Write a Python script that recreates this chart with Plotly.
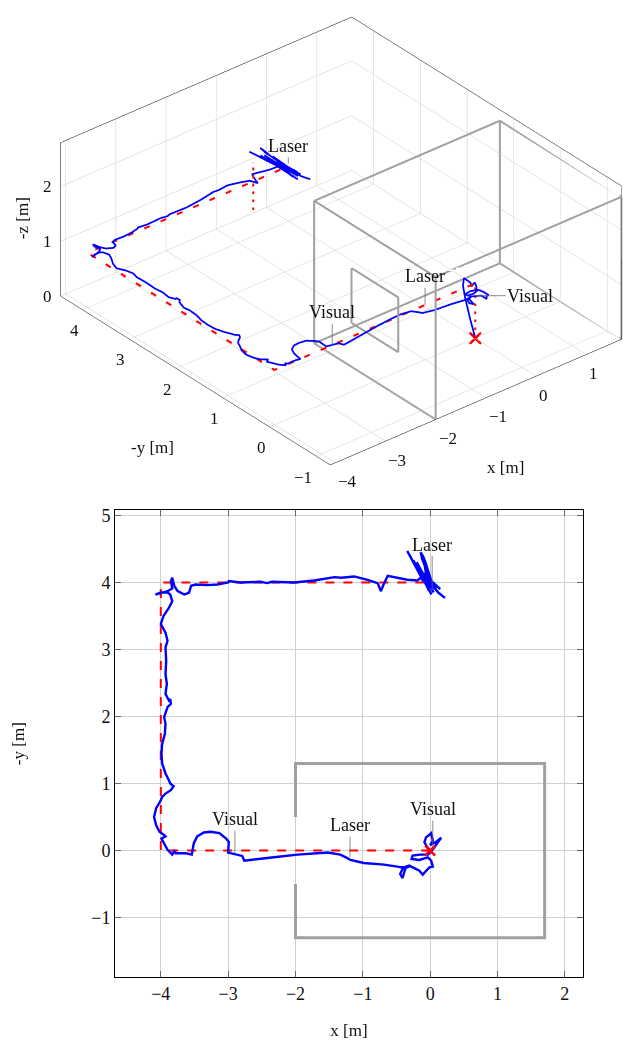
import plotly.graph_objects as go

# ---------------- data (x and -y in metres) ----------------
# planned reference path (2D)
ref_x = [0, -4, -4, 0]
ref_y = [0, 0, 4, 4]
# planned reference path (3D, with take-off) + landing segment
ref3_x = [0, 0, -4, -4, 0, None, -0.7, -0.7]
ref3_y = [0, 0, 0, 4, 4, None, 4, 4]
ref3_z = [0, 1, 1, 1, 1, None, 0.45, 1.35]

# estimated trajectory
traj_x = [0.00, -0.05, -0.085, -0.06, -0.025, 0.015, 0.04, 0.00, 0.10, 0.165, 0.12, 0.05, -0.03, -0.15,
          -0.26, -0.275, -0.16, -0.035, 0.015, 0.04, -0.01, -0.11, -0.16, -0.235, -0.31, -0.36, -0.41,
          -0.445, -0.41, -0.31, -0.435, -0.485, -0.685, -0.985, -1.135, -1.185, -1.235, -1.335,
          -1.52, -1.72, -1.97, -2.32, -2.66, -2.76, -2.79, -2.86, -2.96, -3.00, -2.99, -3.03, -3.13,
          -3.26, -3.36, -3.46, -3.51, -3.53, -3.54, -3.63, -3.78, -3.80, -3.83, -3.90, -3.95, -3.99,
          -3.93, -3.95, -4.02, -4.07, -4.10, -4.07, -4.00, -3.98, -3.93, -3.85, -3.81, -3.86, -3.88,
          -3.93, -3.98, -3.99, -3.98, -3.94, -3.93, -3.95, -3.90, -3.85, -3.86, -3.88, -3.93, -3.91,
          -3.93, -3.92, -3.93, -3.90, -3.93, -4.00, -3.96, -3.88, -3.83, -3.86, -3.90, -4.00, -4.08,
          -4.00, -3.90, -3.83, -3.85, -3.83, -3.80, -3.75, -3.65, -3.58, -3.55, -3.48, -3.31, -3.16,
          -3.00, -2.99, -2.82, -2.52, -2.42, -2.35, -2.02, -1.72, -1.42, -1.32, -1.13, -0.93, -0.78,
          -0.73, -0.70, -0.63, -0.53, -0.34, -0.19, -0.14, -0.10, -0.34, -0.05, -0.25, 0.02, -0.18,
          0.10, -0.05, 0.05, -0.20, -0.02, -0.08, 0.03, -0.12, -0.14, -0.10, -0.07, 0.05, -0.12,
          0.15, -0.03, 0.08, 0.00, 0.12, 0.22]
traj_y = [0.00, 0.06, 0.125, 0.20, 0.225, 0.26, 0.15, 0.08, 0.14, 0.19, 0.13, 0.03, -0.06, -0.06,
          -0.075, -0.125, -0.14, -0.10, -0.15, -0.24, -0.25, -0.36, -0.30, -0.26, -0.225, -0.24, -0.41,
          -0.35, -0.275, -0.24, -0.25, -0.24, -0.21, -0.185, -0.15, -0.14, -0.11, -0.06,
          -0.03, -0.04, -0.06, -0.10, -0.14, -0.15, -0.08, -0.06, -0.04, -0.03, 0.13, 0.18, 0.26,
          0.28, 0.27, 0.21, 0.11, 0.01, -0.06, -0.04, -0.04, -0.01, -0.06, 0.01, 0.11, 0.18,
          0.21, 0.23, 0.28, 0.38, 0.50, 0.63, 0.75, 0.80, 0.85, 0.90, 0.96, 1.00, 1.05,
          1.15, 1.30, 1.45, 1.59, 1.74, 1.89, 1.99, 2.14, 2.19, 2.26, 2.24, 2.34, 2.49,
          2.63, 2.83, 3.03, 3.13, 3.25, 3.38, 3.50, 3.62, 3.72, 3.82, 3.85, 3.85, 3.82,
          3.84, 3.87, 3.91, 4.02, 4.07, 3.95, 3.87, 3.82, 3.85, 3.95, 3.97, 3.96, 3.97,
          4.00, 4.02, 4.00, 4.01, 3.99, 4.01, 4.00, 4.03, 4.08, 4.07, 4.09, 4.04, 3.99,
          3.87, 3.95, 4.10, 4.08, 4.04, 4.03, 4.07, 4.02, 4.47, 3.95, 4.33, 3.82, 4.20,
          3.92, 4.10, 3.85, 4.30, 3.88, 4.25, 3.98, 4.35, 4.45, 4.38, 4.30, 3.92, 4.15,
          3.90, 4.05, 3.95, 4.00, 3.85, 3.77]
traj_z = [0.00, 0.35, 0.70, 0.88, 0.92, 0.95, 0.92, 0.90, 0.88, 0.85, 0.88, 0.90, 0.92, 0.95,
          0.95, 0.95, 0.95, 0.95, 0.92, 0.90, 0.90, 0.95, 1.00, 1.00, 1.00, 1.00, 1.00,
          1.00, 1.00, 1.00, 1.00, 1.00, 1.00, 1.00, 1.00, 1.00, 1.02, 1.05,
          1.05, 1.05, 1.05, 1.05, 1.05, 1.05, 1.05, 1.05, 1.05, 1.05, 1.05, 1.05, 1.05,
          1.05, 1.05, 1.05, 1.05, 1.05, 1.05, 1.05, 1.05, 1.05, 1.05, 1.05, 1.05, 1.05,
          1.05, 1.05, 1.05, 1.05, 1.05, 1.05, 1.05, 1.05, 1.05, 1.05, 1.05, 1.05, 1.05,
          1.05, 1.05, 1.05, 1.05, 1.05, 1.05, 1.05, 1.05, 1.05, 1.05, 1.05, 1.05, 1.05,
          1.05, 1.05, 1.05, 1.05, 1.05, 1.05, 1.05, 1.05, 1.05, 1.05, 1.05, 1.05, 1.05,
          1.05, 1.05, 1.05, 1.05, 1.05, 1.05, 1.05, 1.05, 1.05, 1.05, 1.05, 1.05, 1.05,
          1.05, 1.05, 1.05, 1.05, 1.05, 1.05, 1.05, 1.05, 1.05, 1.05, 1.05, 1.05, 1.05,
          1.05, 1.05, 1.05, 1.05, 1.05, 1.05, 1.05, 1.00, 1.15, 0.95, 1.12, 0.85, 1.08,
          0.90, 1.02, 0.88, 1.12, 0.88, 1.08, 0.95, 1.10, 1.15, 1.10, 1.05, 0.90, 1.00,
          0.85, 0.98, 0.92, 0.95, 0.85, 0.80]

# room walls seen from above (gap = window)
wall_x = [-2, -2, 1.7, 1.7, -2, -2]
wall_y = [0.5, 1.3, 1.3, -1.3, -1.3, -0.5]
# room geometry for 3D
room_x0, room_x1 = -2, 1.7
room_y0, room_y1 = -1.3, 1.3
room_h = 2.6
win_y0, win_y1 = -0.5, 0.5
win_z0, win_z1 = 0.8, 1.8

# axis ranges / ticks of the 3D view
x3_range = [-4.1, 1.7]
y3_range = [-1.3, 4.47]
z3_range = [0, 2.8]
x3_ticks = [-4, -3, -2, -1, 0, 1]
y3_ticks = [-1, 0, 1, 2, 3, 4]
z3_ticks = [0, 1, 2]

# annotation pins 2D: (text, x, -y, pixel offset up)
pins2d = [("Laser", 0.03, 3.88, -46), ("Visual", -2.9, -0.04, -34),
          ("Laser", -1.19, -0.10, -32), ("Visual", 0.04, 0.05, -38)]
# annotation pins 3D: (text, x, -y, z, ax, ay)
pins3d = [("Laser", 0.0, 4.0, 1.05, 0, -18), ("Visual", -2.85, 0.0, 1.0, 0, -33),
          ("Laser", -1.0, 0.0, 1.0, 0, -29), ("Visual", 0.0, 0.0, 0.78, 55, 0)]

FONT = "Liberation Serif"
BLUE = "#0000ff"
RED = "#ff0000"
GRAY = "#a0a0a0"
TXT = "#111111"

# ---------------- 3D room segments ----------------
def segs(points):
    xs, ys, zs = [], [], []
    for a, b in points:
        xs += [a[0], b[0], None]
        ys += [a[1], b[1], None]
        zs += [a[2], b[2], None]
    return xs, ys, zs

c = lambda x, y, z: (x, y, z)
edges = []
for (xx, yy) in [(room_x0, room_y0), (room_x0, room_y1), (room_x1, room_y0), (room_x1, room_y1)]:
    edges.append((c(xx, yy, 0), c(xx, yy, room_h)))
edges += [(c(room_x0, room_y1, room_h), c(room_x1, room_y1, room_h)),
          (c(room_x1, room_y1, room_h), c(room_x1, room_y0, room_h)),
          (c(room_x1, room_y0, room_h), c(room_x0, room_y0, room_h)),
          (c(room_x0, room_y0, room_h), c(room_x0, room_y1, room_h)),
          (c(room_x0, room_y1, 0), c(room_x0, room_y0, 0)),
          (c(room_x0, room_y1, 0), c(room_x1, room_y1, 0)),
          (c(room_x1, room_y1, 0), c(room_x1, room_y0, 0)),
          (c(room_x0, win_y0, win_z0), c(room_x0, win_y1, win_z0)),
          (c(room_x0, win_y1, win_z0), c(room_x0, win_y1, win_z1)),
          (c(room_x0, win_y1, win_z1), c(room_x0, win_y0, win_z1)),
          (c(room_x0, win_y0, win_z1), c(room_x0, win_y0, win_z0))]
rx, ry, rz = segs(edges)

fig = go.Figure()

# 3D traces
fig.add_trace(go.Scatter3d(x=rx, y=ry, z=rz, mode="lines", line=dict(color=GRAY, width=4),
                           showlegend=False, hoverinfo="skip", scene="scene"))
fig.add_trace(go.Scatter3d(x=ref3_x, y=ref3_y, z=ref3_z, mode="lines",
                           line=dict(color=RED, width=4, dash="dash"), connectgaps=False,
                           showlegend=False, hoverinfo="skip", scene="scene"))
fig.add_trace(go.Scatter3d(x=traj_x, y=traj_y, z=traj_z, mode="lines",
                           line=dict(color=BLUE, width=3.5), showlegend=False, hoverinfo="skip",
                           scene="scene"))
fig.add_trace(go.Scatter3d(x=[ref3_x[0]], y=[ref3_y[0]], z=[ref3_z[0]], mode="markers",
                           marker=dict(symbol="x", size=2.8, color=RED), showlegend=False,
                           hoverinfo="skip", scene="scene"))

# 2D traces
fig.add_trace(go.Scatter(x=wall_x, y=wall_y, mode="lines", line=dict(color=GRAY, width=3),
                         showlegend=False, hoverinfo="skip", xaxis="x", yaxis="y"))
fig.add_trace(go.Scatter(x=ref_x, y=ref_y, mode="lines", line=dict(color=RED, width=2, dash="dash"),
                         showlegend=False, hoverinfo="skip", xaxis="x", yaxis="y"))
fig.add_trace(go.Scatter(x=traj_x, y=traj_y, mode="lines", line=dict(color=BLUE, width=2.4),
                         showlegend=False, hoverinfo="skip", xaxis="x", yaxis="y"))
fig.add_trace(go.Scatter(x=[ref_x[0]], y=[ref_y[0]], mode="markers",
                         marker=dict(symbol="x-thin", size=10, line=dict(color=RED, width=2.5)),
                         showlegend=False, hoverinfo="skip", xaxis="x", yaxis="y"))

pinfont = dict(family=FONT, size=18, color=TXT)
ann2d = []
for txt, px, py, ay in pins2d:
    ann2d.append(dict(x=px, y=py, xref="x", yref="y", text=txt, showarrow=True, arrowhead=0,
                      arrowwidth=0.8, arrowcolor="#707070", ax=0, ay=ay, standoff=0, font=pinfont))

# 3D axis titles (horizontal / rotated text like the original)
titlefont3 = dict(family=FONT, size=17, color=TXT)
ann2d += [dict(x=22 / 623, y=1 - 215 / 1040, xref="paper", yref="paper", text="-z [m]",
               textangle=-90, showarrow=False, xanchor="center", yanchor="middle", font=titlefont3),
          dict(x=152 / 623, y=1 - 445 / 1040, xref="paper", yref="paper", text="-y [m]",
               showarrow=False, xanchor="center", yanchor="middle", font=titlefont3),
          dict(x=505 / 623, y=1 - 465 / 1040, xref="paper", yref="paper", text="x [m]",
               showarrow=False, xanchor="center", yanchor="middle", font=titlefont3)]

tickfont3 = dict(family=FONT, size=17, color=TXT)
ann3d = []
for txt, px, py, pz, axp, ayp in pins3d:
    ann3d.append(dict(x=px, y=py, z=pz, text=txt, showarrow=True, arrowhead=0, arrowwidth=0.8,
                      arrowcolor="#707070", ax=axp, ay=ayp, font=pinfont))
for t in x3_ticks:
    ann3d.append(dict(x=t, y=y3_range[0], z=z3_range[0], text=f"{t}".replace("-", "\u2212"),
                      showarrow=False, xanchor="left", yanchor="top", xshift=1, yshift=-7,
                      font=tickfont3))
for t in y3_ticks:
    ann3d.append(dict(x=x3_range[0], y=t, z=z3_range[0], text=f"{t}".replace("-", "\u2212"),
                      showarrow=False, xanchor="right", yanchor="top", xshift=-2, yshift=-9,
                      font=tickfont3))
for t in z3_ticks:
    ann3d.append(dict(x=x3_range[0], y=y3_range[1], z=t, text=f"{t}", showarrow=False,
                      xanchor="right", yanchor="middle", xshift=-7, yshift=0, font=tickfont3))

ax3 = dict(showbackground=False, gridcolor="#cccccc", gridwidth=1, showline=True,
           linecolor="black", linewidth=1, zeroline=False, showspikes=False, ticks="",
           showticklabels=False, mirror=True, title=dict(text=""))

r = 1.2
k = 1.596  # overall zoom of the 3D box
fig.update_layout(
    width=623, height=1040, margin=dict(l=0, r=0, t=0, b=0),
    paper_bgcolor="white", plot_bgcolor="white",
    font=dict(family=FONT, size=16, color=TXT),
    scene=dict(
        domain=dict(x=[0.0946, 1.0], y=[0.542, 1.0]),
        xaxis=dict(ax3, range=x3_range, tickvals=x3_ticks),
        yaxis=dict(ax3, range=y3_range, tickvals=y3_ticks),
        zaxis=dict(ax3, range=z3_range, tickvals=z3_ticks),
        aspectmode="manual", aspectratio=dict(x=1 * k, y=1.116 * k, z=0.475 * k),
        camera=dict(eye=dict(x=-0.5455 * r, y=-0.6571 * r, z=0.5197 * r),
                    up=dict(x=0, y=0, z=1), center=dict(x=0, y=0, z=0),
                    projection=dict(type="orthographic")),
        annotations=ann3d,
    ),
    xaxis=dict(domain=[0.1846, 0.9358], range=[-4.68, 2.27], dtick=1, anchor="y",
               showgrid=True, gridcolor="#d0d0d0", zeroline=False, showline=True,
               linecolor="black", linewidth=1, mirror="ticks", ticks="inside", ticklen=6,
               tickcolor="#666", tickfont=dict(family=FONT, size=18, color=TXT),
               title=dict(text="x [m]", font=dict(family=FONT, size=17), standoff=22)),
    yaxis=dict(domain=[0.0606, 0.5115], range=[-1.89, 5.08], dtick=1, anchor="x",
               showgrid=True, gridcolor="#d0d0d0", zeroline=False, showline=True,
               linecolor="black", linewidth=1, mirror="ticks", ticks="inside", ticklen=6,
               tickcolor="#666", tickfont=dict(family=FONT, size=18, color=TXT),
               title=dict(text="-y [m]", font=dict(family=FONT, size=17), standoff=62)),
    annotations=ann2d,
)

fig.write_html("out.html")
